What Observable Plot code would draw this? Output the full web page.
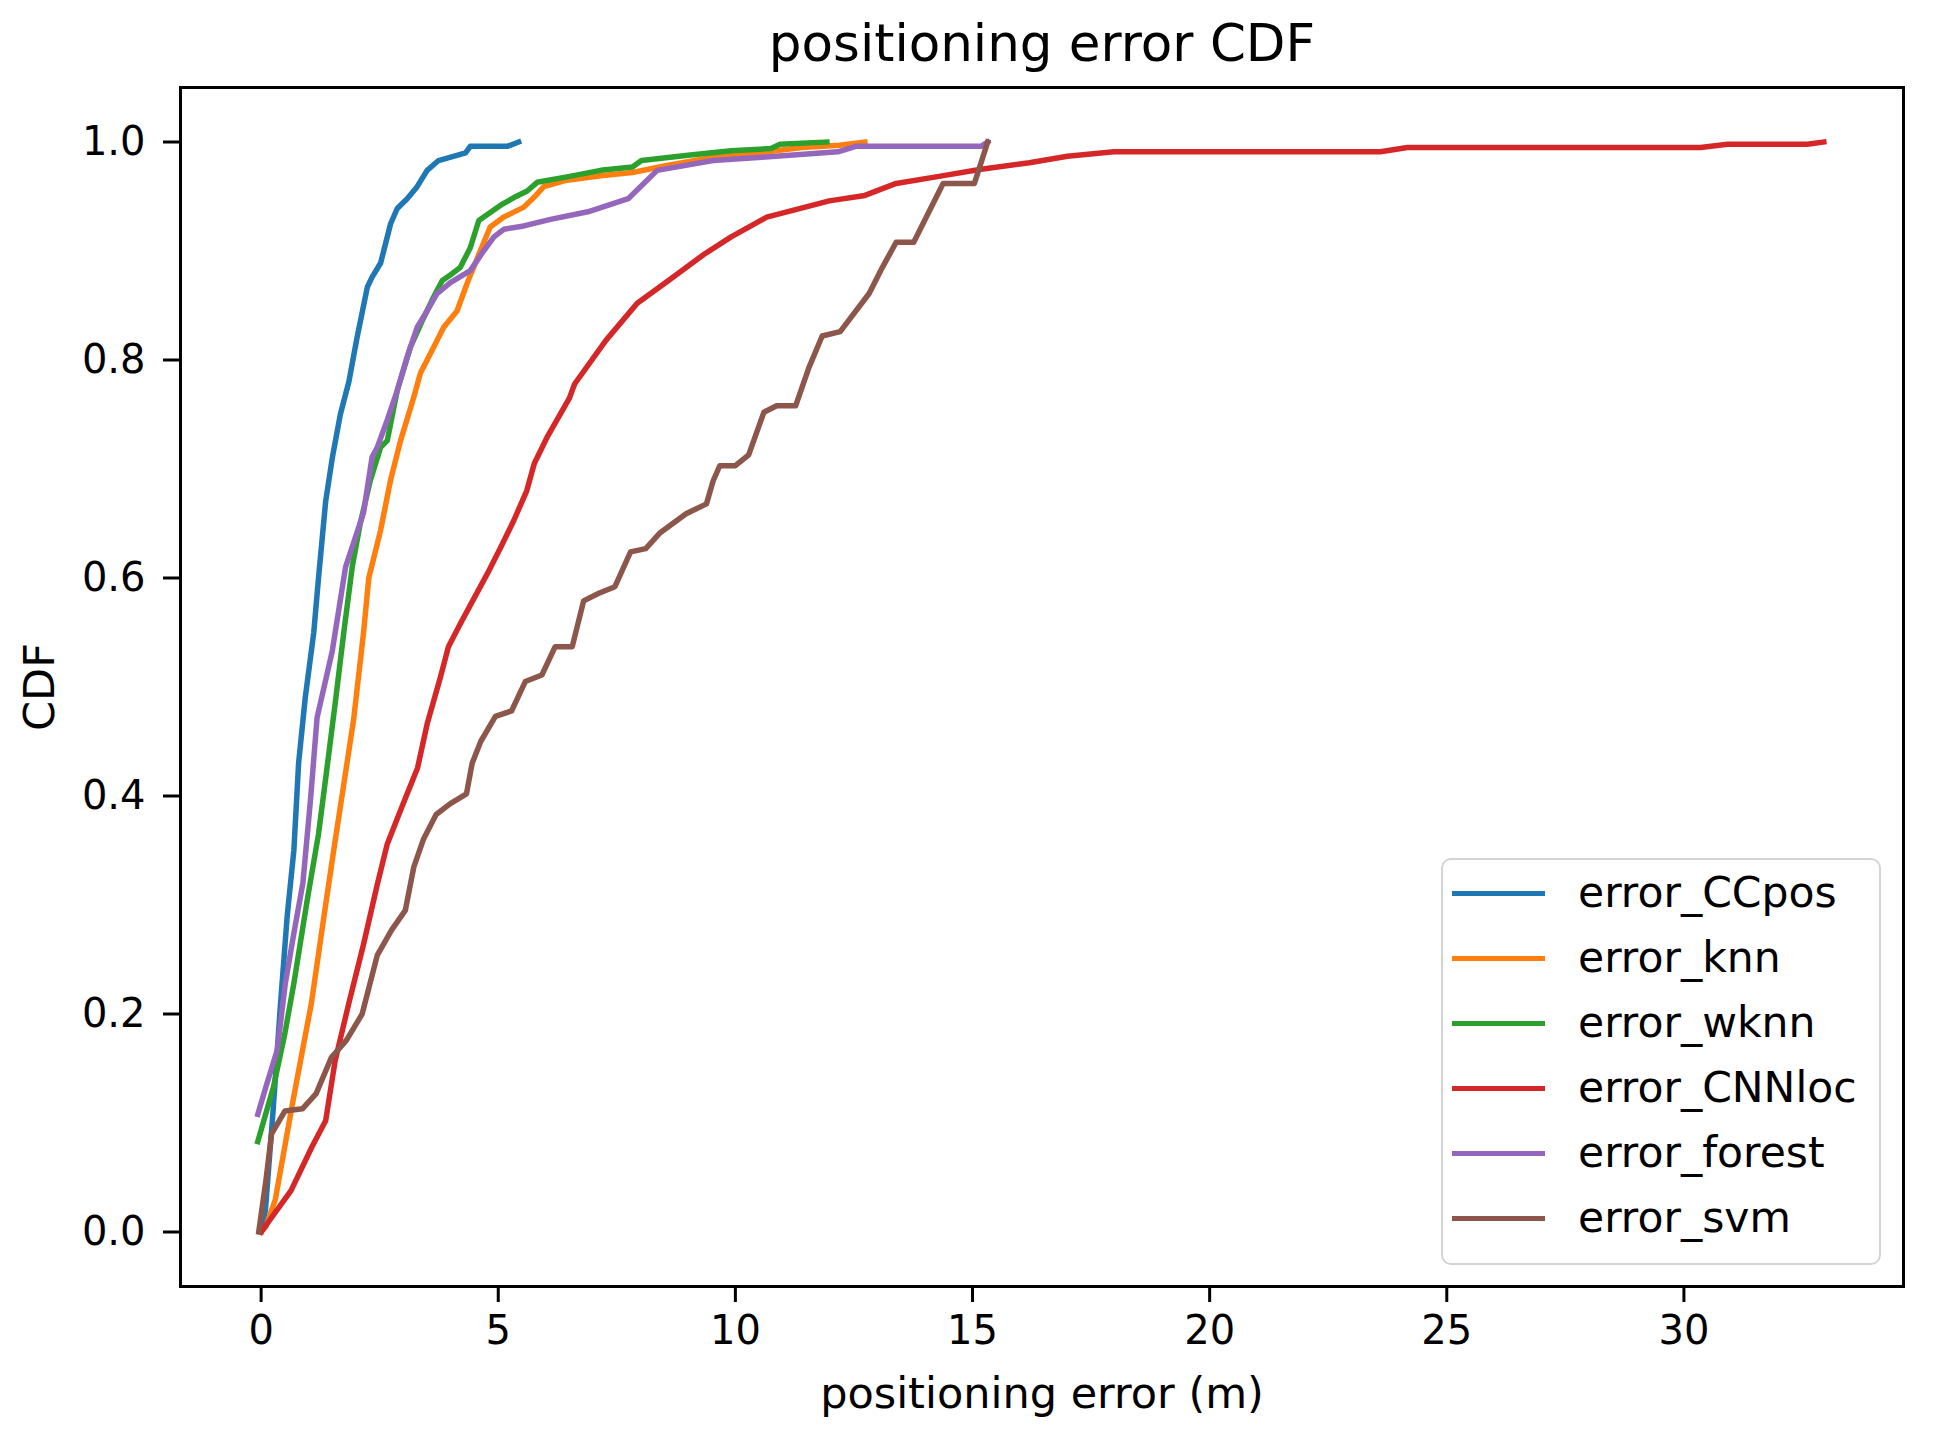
<!DOCTYPE html>
<html>
<head>
<meta charset="utf-8">
<script src="https://cdn.jsdelivr.net/npm/d3@7"></script>
<script src="https://cdn.jsdelivr.net/npm/@observablehq/plot@0.6"></script>
<style>
  html, body { margin: 0; padding: 0; background: #ffffff; }
  #wrap { position: relative; width: 1945px; height: 1437px; font-family: "DejaVu Sans", sans-serif; }
  #legend { position: absolute; left: 1441px; top: 858px; width: 440px; height: 407px;
            box-sizing: border-box; border: 2.5px solid #d4d4d4; border-radius: 10px;
            background: rgba(255,255,255,0.8); }
  .row { position: absolute; left: 0; height: 65px; display: flex; align-items: center; }
  .sw { position: absolute; left: 9px; width: 93px; height: 5px; }
  .lab { position: absolute; left: 135px; font-size: 42.5px; color: #000; white-space: nowrap; line-height: 1; }
</style>
</head>
<body>
<div id="wrap"></div>
<script>
// ---- data ----
const seriesNames = ["error_CCpos", "error_knn", "error_wknn", "error_CNNloc", "error_forest", "error_svm"];
const seriesColors = ["#1f77b4", "#ff7f0e", "#2ca02c", "#d62728", "#9467bd", "#8c564b"];
const xTicks = [0, 5, 10, 15, 20, 25, 30];
const yTicks = [0.0, 0.2, 0.4, 0.6, 0.8, 1.0];

const errorCCpos = [[0,0],[0.09,0.02],[0.25,0.11],[0.41,0.21],[0.55,0.29],[0.69,0.35],[0.79,0.43],[0.93,0.49],[1.11,0.55],[1.21,0.6],[1.36,0.67],[1.5,0.71],[1.67,0.75],[1.85,0.78],[2.02,0.82],[2.24,0.867],[2.34,0.876],[2.52,0.889],[2.73,0.925],[2.87,0.939],[3.08,0.948],[3.29,0.959],[3.5,0.974],[3.74,0.983],[4.31,0.99],[4.41,0.996],[5.19,0.996],[5.43,1.0]];
const errorKnn = [[0,0],[0.1,0.005],[0.3,0.03],[0.67,0.12],[1.06,0.21],[1.36,0.3],[1.53,0.35],[1.74,0.41],[1.95,0.47],[2.16,0.55],[2.27,0.6],[2.52,0.644],[2.73,0.69],[2.94,0.726],[3.22,0.766],[3.36,0.788],[3.64,0.812],[3.85,0.83],[4.13,0.845],[4.34,0.87],[4.62,0.9],[4.83,0.922],[5.11,0.931],[5.53,0.94],[5.75,0.949],[5.96,0.959],[6.45,0.965],[7.16,0.969],[7.83,0.972],[8.5,0.978],[9.53,0.986],[10.5,0.99],[11.4,0.995],[12.2,0.997],[12.73,1.0]];
const errorWknn = [[-0.07,0.083],[0.26,0.133],[0.5,0.182],[0.69,0.228],[0.97,0.304],[1.21,0.365],[1.39,0.426],[1.57,0.488],[1.74,0.549],[1.92,0.61],[2.09,0.65],[2.3,0.689],[2.52,0.72],[2.66,0.726],[2.87,0.772],[3.15,0.812],[3.43,0.839],[3.64,0.858],[3.82,0.873],[3.99,0.878],[4.2,0.885],[4.41,0.903],[4.59,0.928],[5.05,0.942],[5.33,0.949],[5.61,0.955],[5.82,0.963],[6.45,0.968],[7.16,0.974],[7.83,0.977],[8.02,0.983],[9.05,0.988],[9.91,0.992],[10.75,0.994],[10.94,0.998],[11.93,1.0]];
const errorCNNloc = [[0,0],[0.63,0.038],[1.07,0.078],[1.36,0.102],[1.56,0.157],[1.85,0.21],[2.16,0.264],[2.45,0.319],[2.66,0.356],[2.94,0.387],[3.3,0.426],[3.5,0.466],[3.78,0.509],[3.95,0.537],[4.2,0.558],[4.46,0.579],[4.77,0.604],[5.05,0.628],[5.33,0.653],[5.6,0.68],[5.76,0.705],[6.04,0.73],[6.5,0.765],[6.61,0.778],[7.27,0.818],[7.93,0.852],[8.59,0.873],[9.34,0.897],[9.91,0.913],[10.66,0.931],[11.98,0.946],[12.73,0.951],[13.39,0.962],[14.23,0.968],[15.18,0.975],[16.2,0.981],[17.0,0.987],[17.98,0.991],[23.6,0.991],[24.17,0.995],[30.35,0.995],[30.92,0.998],[32.6,0.998],[32.95,1.0]];
const errorForest = [[-0.07,0.108],[0.1,0.133],[0.34,0.167],[0.51,0.228],[0.69,0.274],[0.88,0.32],[1.04,0.396],[1.18,0.472],[1.5,0.533],[1.78,0.61],[2.16,0.66],[2.34,0.711],[2.45,0.72],[2.66,0.745],[2.87,0.772],[3.08,0.803],[3.29,0.83],[3.5,0.845],[3.71,0.861],[3.99,0.871],[4.41,0.882],[4.69,0.9],[4.91,0.913],[5.12,0.92],[5.54,0.923],[6.1,0.929],[6.89,0.936],[7.74,0.948],[8.35,0.974],[9.53,0.983],[10.56,0.986],[12.16,0.991],[12.54,0.996],[15.18,0.996],[15.32,1.0]];
const errorSvm = [[-0.05,0],[0.1,0.047],[0.22,0.09],[0.5,0.111],[0.87,0.113],[1.16,0.127],[1.48,0.16],[1.8,0.176],[2.13,0.2],[2.45,0.254],[2.75,0.277],[3.04,0.295],[3.22,0.335],[3.42,0.36],[3.69,0.383],[3.99,0.393],[4.33,0.402],[4.45,0.43],[4.63,0.45],[4.94,0.473],[5.28,0.478],[5.57,0.505],[5.92,0.511],[6.2,0.537],[6.56,0.537],[6.8,0.579],[7.12,0.586],[7.46,0.592],[7.79,0.624],[8.11,0.627],[8.4,0.641],[8.96,0.659],[9.39,0.668],[9.53,0.689],[9.67,0.703],[10.0,0.703],[10.28,0.713],[10.6,0.752],[10.87,0.758],[11.27,0.758],[11.55,0.793],[11.83,0.822],[12.21,0.826],[12.82,0.861],[13.1,0.885],[13.39,0.908],[13.76,0.908],[14.38,0.962],[15.04,0.962],[15.32,1.0]];

const seriesValues = [errorCCpos, errorKnn, errorWknn, errorCNNloc, errorForest, errorSvm];

// long table built from the arrays
const rows = [];
seriesValues.forEach((vals, i) => vals.forEach(([x, y]) => rows.push({series: seriesNames[i], x, y})));

const FONT = "DejaVu Sans";

const chart = Plot.plot({
  width: 1945,
  height: 1437,
  marginLeft: 180,
  marginRight: 42,
  marginTop: 87,
  marginBottom: 151,
  style: {fontFamily: FONT, fontSize: "40px", background: "#ffffff", color: "#000000"},
  x: {domain: [-1.7, 34.63]},
  y: {domain: [-0.05, 1.05]},
  color: {domain: seriesNames, range: seriesColors},
  marks: [
    Plot.line(rows, {x: "x", y: "y", z: "series", stroke: "series", strokeWidth: 5.5,
                     strokeLinejoin: "round", strokeLinecap: "square"}),
    Plot.frame({stroke: "#000", strokeWidth: 3}),
    Plot.axisX({ticks: xTicks, tickFormat: d => String(d), tickSize: 16, tickPadding: 13,
                strokeWidth: 3, fontSize: 40, label: null}),
    Plot.axisY({ticks: yTicks, tickFormat: d => d.toFixed(1), tickSize: 17, tickPadding: 18,
                strokeWidth: 3, fontSize: 40, label: null}),
    Plot.text(["positioning error CDF"], {text: d => d, frameAnchor: "top", dy: -27,
              lineAnchor: "bottom", textAnchor: "middle", fontSize: 51.5, fill: "#000"}),
    Plot.text(["positioning error (m)"], {text: d => d, frameAnchor: "bottom", dy: 121,
              lineAnchor: "bottom", textAnchor: "middle", fontSize: 43, fill: "#000"}),
    Plot.text(["CDF"], {text: d => d, frameAnchor: "left", dx: -127, rotate: -90,
              lineAnchor: "bottom", textAnchor: "middle", fontSize: 43, fill: "#000"})
  ]
});

const wrap = document.getElementById("wrap");
wrap.appendChild(chart);

// legend (HTML overlay inside the axes area)
const legend = document.createElement("div");
legend.id = "legend";
seriesNames.forEach((name, i) => {
  const row = document.createElement("div");
  row.className = "row";
  row.style.top = (36 + 65 * i - 32.5 - 2.5) + "px";
  row.style.width = "100%";
  const sw = document.createElement("div");
  sw.className = "sw";
  sw.style.background = seriesColors[i];
  sw.style.top = "30px";
  const lab = document.createElement("div");
  lab.className = "lab";
  lab.textContent = name;
  row.appendChild(sw);
  row.appendChild(lab);
  legend.appendChild(row);
});
wrap.appendChild(legend);
</script>
</body>
</html>
